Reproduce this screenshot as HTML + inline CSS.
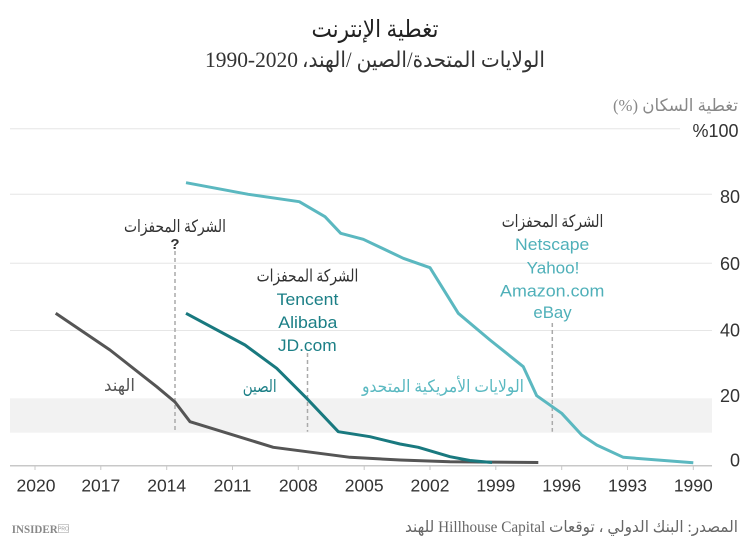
<!DOCTYPE html>
<html>
<head>
<meta charset="utf-8">
<style>
html,body{margin:0;padding:0;background:#fff;}
svg{display:block;}
.ar{font-family:"Liberation Serif","DejaVu Sans",sans-serif;}
.sans{font-family:"Liberation Sans","DejaVu Sans",sans-serif;}
</style>
</head>
<body>
<svg width="750" height="545" viewBox="0 0 750 545" xmlns="http://www.w3.org/2000/svg">
  <rect x="0" y="0" width="750" height="545" fill="#fff"/>

  <!-- Titles -->
  <text class="ar" x="375" y="37" font-size="24" fill="#222" text-anchor="middle" style="direction:rtl" textLength="127" lengthAdjust="spacingAndGlyphs">تغطية الإنترنت</text>
  <text x="205" y="67" font-family="Liberation Serif, serif" font-size="22" fill="#333" textLength="93" lengthAdjust="spacingAndGlyphs">1990-2020</text>
  <text class="ar" x="423.5" y="67" font-size="22" fill="#333" text-anchor="middle" style="direction:rtl" textLength="243" lengthAdjust="spacingAndGlyphs">الولايات المتحدة/الصين /الهند،</text>
  <text class="ar" x="675.5" y="111" font-size="17" fill="#888" text-anchor="middle" style="direction:rtl" textLength="125" lengthAdjust="spacingAndGlyphs">تغطية السكان (%)</text>

  <!-- Band -->
  <rect x="10" y="398.3" width="702" height="34.4" fill="#f2f2f2"/>

  <!-- Gridlines -->
  <g stroke="#e6e6e6" stroke-width="1">
    <line x1="10" y1="128.7" x2="680" y2="128.7"/>
    <line x1="10" y1="194.3" x2="712" y2="194.3"/>
    <line x1="10" y1="263.3" x2="712" y2="263.3"/>
    <line x1="10" y1="330.5" x2="712" y2="330.5"/>
  </g>

  <!-- Axis -->
  <line x1="10" y1="465.7" x2="712" y2="465.7" stroke="#c8c8c8" stroke-width="1.5"/>
  <g stroke="#c8c8c8" stroke-width="1">
    <line x1="35" y1="466" x2="35" y2="470"/>
    <line x1="100.8" y1="466" x2="100.8" y2="470"/>
    <line x1="166.7" y1="466" x2="166.7" y2="470"/>
    <line x1="232.5" y1="466" x2="232.5" y2="470"/>
    <line x1="298.3" y1="466" x2="298.3" y2="470"/>
    <line x1="364.2" y1="466" x2="364.2" y2="470"/>
    <line x1="430" y1="466" x2="430" y2="470"/>
    <line x1="495.8" y1="466" x2="495.8" y2="470"/>
    <line x1="561.7" y1="466" x2="561.7" y2="470"/>
    <line x1="627.5" y1="466" x2="627.5" y2="470"/>
    <line x1="693.3" y1="466" x2="693.3" y2="470"/>
  </g>

  <!-- Dashed annotation lines -->
  <g stroke="#aaa" stroke-width="1.5" stroke-dasharray="4 3">
    <line x1="175" y1="251" x2="175" y2="431.7"/>
    <line x1="307.5" y1="353" x2="307.5" y2="431.7"/>
    <line x1="552.3" y1="323" x2="552.3" y2="431.7"/>
  </g>

  <!-- Series -->
  <polyline fill="none" stroke="#5bb8c0" stroke-width="3" stroke-linejoin="round" stroke-linecap="butt"
    points="186,182.7 248.3,194.3 299.3,201.7 325,216.7 340.7,233.3 363.3,239.3 403.3,258.3 430,267.7 458.3,313.3 490,340 523.3,366.7 536.7,395.7 561.7,413.3 581.7,435 596.7,445 623.3,457.3 693.3,462.7"/>
  <polyline fill="none" stroke="#555" stroke-width="3" stroke-linejoin="round"
    points="55.7,313.3 110,350 156.7,386.7 175,402 190,421.7 273.3,447.3 350,457.3 400,460 450,461.8 538.3,462.5"/>
  <polyline fill="none" stroke="#19797f" stroke-width="3" stroke-linejoin="round"
    points="186,313.3 245,345 276.7,368.3 306.7,398.3 338.3,431.7 370,436.7 400,444 418.3,447.3 450,456.7 470,460.5 492,462.5"/>

  <!-- Annotations -->
  <text class="ar" x="175" y="232" font-size="17" fill="#333" text-anchor="middle" style="direction:rtl" textLength="102" lengthAdjust="spacingAndGlyphs">الشركة المحفزات</text>
  <text class="sans" x="175" y="249" font-size="15" font-weight="bold" fill="#333" text-anchor="middle">?</text>

  <text class="ar" x="307.5" y="281.5" font-size="17" fill="#333" text-anchor="middle" style="direction:rtl" textLength="101.7" lengthAdjust="spacingAndGlyphs">الشركة المحفزات</text>
  <g class="sans" font-size="17" fill="#1b7f86" text-anchor="middle">
    <text x="307.5" y="305.2" textLength="61.7" lengthAdjust="spacingAndGlyphs">Tencent</text>
    <text x="307.8" y="328" textLength="59" lengthAdjust="spacingAndGlyphs">Alibaba</text>
    <text x="307.3" y="351" textLength="58.7" lengthAdjust="spacingAndGlyphs">JD.com</text>
  </g>

  <text class="ar" x="552.5" y="227" font-size="17" fill="#333" text-anchor="middle" style="direction:rtl" textLength="101.6" lengthAdjust="spacingAndGlyphs">الشركة المحفزات</text>
  <g class="sans" font-size="17" fill="#4fb0b9" text-anchor="middle">
    <text x="552.2" y="250" textLength="74.3" lengthAdjust="spacingAndGlyphs">Netscape</text>
    <text x="553" y="273.5" textLength="52.7" lengthAdjust="spacingAndGlyphs">Yahoo!</text>
    <text x="552.2" y="296.3" textLength="104.3" lengthAdjust="spacingAndGlyphs">Amazon.com</text>
    <text x="552.5" y="318" textLength="38.3" lengthAdjust="spacingAndGlyphs">eBay</text>
  </g>

  <!-- Series labels -->
  <text class="ar" x="119.5" y="391" font-size="17" fill="#555" text-anchor="middle" style="direction:rtl" textLength="31" lengthAdjust="spacingAndGlyphs">الهند</text>
  <text class="ar" x="259.7" y="392" font-size="17" fill="#1b7f86" text-anchor="middle" style="direction:rtl" textLength="34" lengthAdjust="spacingAndGlyphs">الصين</text>
  <text class="ar" x="443" y="392" font-size="17" fill="#5ab9c1" text-anchor="middle" style="direction:rtl" textLength="162" lengthAdjust="spacingAndGlyphs">الولايات الأمريكية المتحدو</text>

  <!-- Y labels -->
  <g class="sans" font-size="18" fill="#333" text-anchor="end">
    <text x="738.5" y="137">%100</text>
    <text x="740" y="203">80</text>
    <text x="740" y="270">60</text>
    <text x="740" y="336.5">40</text>
    <text x="740" y="402">20</text>
    <text x="740" y="466.5">0</text>
  </g>

  <!-- X labels -->
  <g class="sans" font-size="17.5" fill="#333" text-anchor="middle">
    <text x="36" y="491.5">2020</text>
    <text x="100.8" y="491.5">2017</text>
    <text x="166.7" y="491.5">2014</text>
    <text x="232.5" y="491.5">2011</text>
    <text x="298.3" y="491.5">2008</text>
    <text x="364.2" y="491.5">2005</text>
    <text x="430" y="491.5">2002</text>
    <text x="495.8" y="491.5">1999</text>
    <text x="561.7" y="491.5">1996</text>
    <text x="627.5" y="491.5">1993</text>
    <text x="693.3" y="491.5">1990</text>
  </g>

  <!-- Footer -->
  <text x="11.7" y="533" font-family="Liberation Serif, serif" font-size="12" font-weight="bold" fill="#888" textLength="46" lengthAdjust="spacingAndGlyphs">INSIDER</text>
  <rect x="58.5" y="524.5" width="10" height="8" fill="none" stroke="#aaa" stroke-width="0.6"/>
  <text x="63.5" y="530.5" font-family="Liberation Sans, sans-serif" font-size="5" fill="#999" text-anchor="middle">PRO</text>

  <text class="ar" x="571.5" y="532" font-size="16" fill="#666" text-anchor="middle" style="direction:rtl" textLength="333" lengthAdjust="spacingAndGlyphs">المصدر: البنك الدولي ، توقعات Hillhouse Capital للهند</text>
</svg>
</body>
</html>
